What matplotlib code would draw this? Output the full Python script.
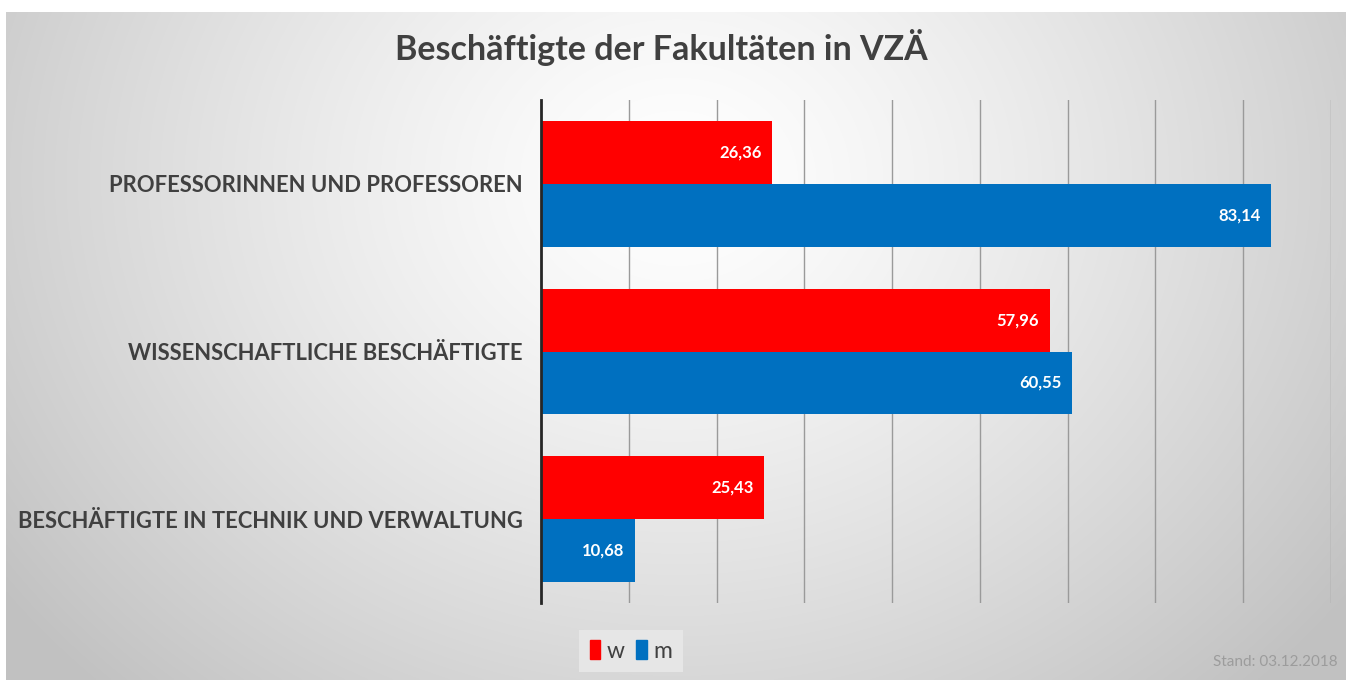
import numpy as np
import matplotlib
matplotlib.use("Agg")
import matplotlib.pyplot as plt

categories = ["PROFESSORINNEN UND PROFESSOREN",
              "WISSENSCHAFTLICHE BESCHÄFTIGTE",
              "BESCHÄFTIGTE IN TECHNIK UND VERWALTUNG"]
w_values = [26.36, 57.96, 25.43]
m_values = [83.14, 60.55, 10.68]
series_names = ["w", "m"]
title = "Beschäftigte der Fakultäten in VZÄ"
footnote = "Stand: 03.12.2018"

RED = "#ff0000"
BLUE = "#0070c0"
TXT = "#404040"
FONT = "Lato"

fig = plt.figure(figsize=(13.46, 6.80), dpi=100)
fig.patch.set_facecolor("white")

# background radial gradient (slide)
bg = fig.add_axes([6/1346, 0, 1 - 6/1346, 1 - 12/680])
bg.set_axis_off()
H, W = 340, 670
yy, xx = np.mgrid[0:H, 0:W]
cx, cy = W * 0.5, H * 0.25
d = np.sqrt(((xx - cx) / (W * 0.62)) ** 2 + ((yy - cy) / (H * 1.05)) ** 2)
d = np.clip(d, 0, 1)
val = 1.0 - 0.24 * d ** 1.3
img = np.dstack([val, val, val])
bg.imshow(img, aspect="auto", extent=[0, 1, 0, 1], interpolation="bilinear")
bg.set_xlim(0, 1); bg.set_ylim(0, 1)

ax = fig.add_axes([541/1346, 77/680, (1331-541)/1346, (603-100)/680])
ax.patch.set_alpha(0)
n = len(categories)
pos = np.arange(n)
h = 0.375
ax.barh(pos - h/2, w_values, height=h, color=RED, label=series_names[0], zorder=3)
ax.barh(pos + h/2, m_values, height=h, color=BLUE, label=series_names[1], zorder=3)
ax.set_ylim(n - 0.5, -0.5)
ax.set_xlim(0, 90)
ax.set_xticks(np.arange(10, 91, 10))
ax.xaxis.grid(True, color="#9a9a9a", linewidth=1.0, zorder=0)
ax.tick_params(axis="x", length=0, labelbottom=False)
ax.tick_params(axis="y", length=0, pad=13)
ax.set_yticks(pos)
ax.set_yticklabels(categories, fontsize=15.8, color=TXT, fontfamily=FONT, fontweight="bold")
for s in ["top", "right", "bottom"]:
    ax.spines[s].set_visible(False)
ax.spines["left"].set_color("#262626")
ax.spines["left"].set_linewidth(2)
ax.spines["left"].set_zorder(4)

def fmt(v):
    return f"{v:.2f}".replace(".", ",")

for i in range(n):
    ax.text(w_values[i] - 1.2, pos[i] - h/2, fmt(w_values[i]), ha="right", va="center",
            color="white", fontsize=12, fontweight="bold", fontfamily=FONT, zorder=5)
    ax.text(m_values[i] - 1.2, pos[i] + h/2, fmt(m_values[i]), ha="right", va="center",
            color="white", fontsize=12, fontweight="bold", fontfamily=FONT, zorder=5)

fig.text(661/1346, 1 - 48/680, title, ha="center", va="center", fontsize=24.5,
         fontweight="bold", color=TXT, fontfamily=FONT)

# legend
handles = [plt.Rectangle((0, 0), 1, 1, color=RED), plt.Rectangle((0, 0), 1, 1, color=BLUE)]
leg = fig.legend(handles=handles, labels=series_names, loc="center",
                 bbox_to_anchor=(631/1346, 1 - 651/680), ncol=2, frameon=True,
                 handlelength=0.45, handleheight=0.9, handletextpad=0.3,
                 columnspacing=0.5, borderpad=0.45, borderaxespad=0,
                 prop={"family": FONT, "size": 16.5})
leg.get_frame().set_facecolor("#e6e6e6")
leg.get_frame().set_edgecolor("none")
leg.get_frame().set_alpha(1)
leg.get_frame().set_boxstyle("square", pad=0)
for t in leg.get_texts():
    t.set_color(TXT)

fig.text(1338/1346, 1 - 662/680, footnote, ha="right", va="center", fontsize=11,
         color="#9c9c9c", fontfamily=FONT)

fig.savefig("out.png", dpi=100)
